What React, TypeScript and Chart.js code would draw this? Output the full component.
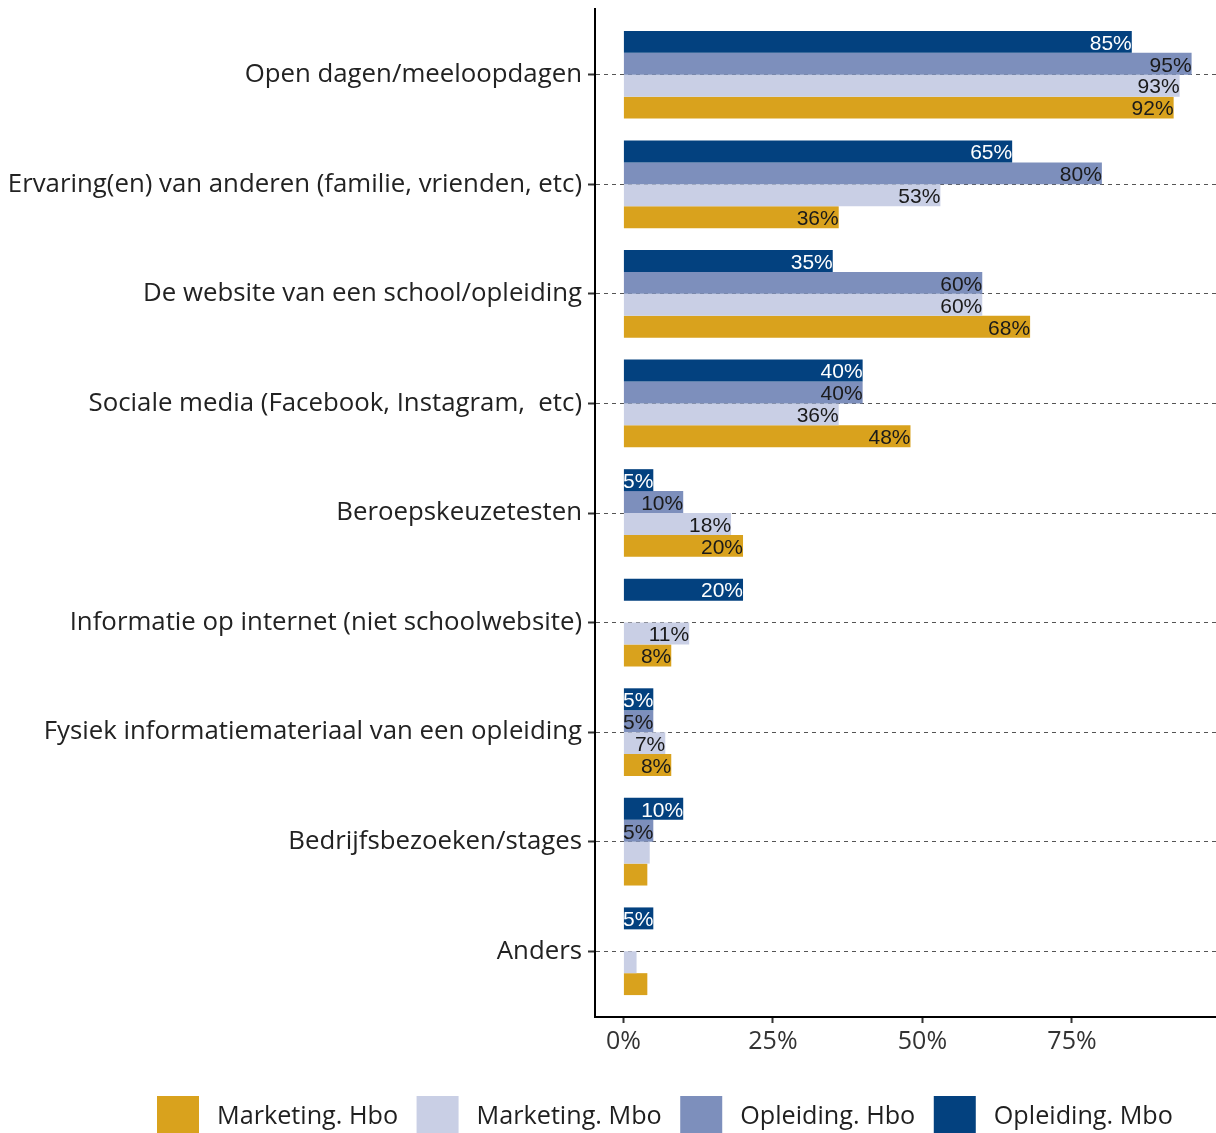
import React, { useEffect, useRef } from "react";
import { Chart, registerables } from "chart.js";

Chart.register(...registerables);

const categories = [
  "Open dagen/meeloopdagen",
  "Ervaring(en) van anderen (familie, vrienden, etc)",
  "De website van een school/opleiding",
  "Sociale media (Facebook, Instagram,  etc)",
  "Beroepskeuzetesten",
  "Informatie op internet (niet schoolwebsite)",
  "Fysiek informatiemateriaal van een opleiding",
  "Bedrijfsbezoeken/stages",
  "Anders",
];

const opleidingMbo = [85, 65, 35, 40, 5, 20, 5, 10, 5];
const opleidingHbo = [95, 80, 60, 40, 10, 0, 5, 5, 0];
const marketingMbo = [93, 53, 60, 36, 18, 11, 7, 4.4, 2.2];
const marketingHbo = [92, 36, 68, 48, 20, 8, 8, 4, 4];

const seriesNames = ["Opleiding. Mbo", "Opleiding. Hbo", "Marketing. Mbo", "Marketing. Hbo"];
const seriesColors = ["#03417f", "#7d8fbc", "#c9cfe5", "#d9a21d"];
const xTickValues = [0, 25, 50, 75];

const FONT = "'Open Sans', 'Noto Sans', sans-serif";

const labelPlugin = {
  id: "barLabels",
  afterDatasetsDraw(chart: any) {
    const ctx = chart.ctx;
    ctx.save();
    ctx.font = "21px 'Liberation Sans', Arial, sans-serif";
    ctx.textAlign = "right";
    ctx.textBaseline = "middle";
    chart.data.datasets.forEach((ds: any, di: number) => {
      const meta = chart.getDatasetMeta(di);
      meta.data.forEach((bar: any, i: number) => {
        const v = ds.data[i].x;
        if (v < 5) return;
        ctx.fillStyle = di === 0 ? "#ffffff" : "#1a1a1a";
        ctx.fillText(Math.round(v) + "%", bar.x, bar.y + 2);
      });
    });
    ctx.restore();
  },
};

const legendPlugin = {
  id: "customLegend",
  afterDraw(chart: any) {
    const ctx = chart.ctx;
    ctx.save();
    ctx.font = "25.2px " + FONT;
    ctx.textBaseline = "middle";
    ctx.textAlign = "left";
    const items = chart.data.datasets.slice().reverse();
    let x = 157;
    const boxTop = 1096;
    const box = 42;
    items.forEach((ds: any) => {
      ctx.fillStyle = ds.backgroundColor;
      ctx.fillRect(x, boxTop, box, box);
      const tx = x + box + 18;
      ctx.fillStyle = "#1f1f1f";
      ctx.fillText(ds.label, tx, 1117);
      x = tx + ctx.measureText(ds.label).width + 18.5;
    });
    ctx.restore();
  },
};

export default function App() {
  const ref = useRef<HTMLCanvasElement>(null);

  useEffect(() => {
    const seriesValues = [opleidingMbo, opleidingHbo, marketingMbo, marketingHbo];
    const chart = new Chart(ref.current as HTMLCanvasElement, {
      type: "bar",
      data: {
        datasets: seriesValues.map((vals, si) => ({
          label: seriesNames[si],
          data: vals.map((v, i) => ({ x: v, y: i })),
          backgroundColor: seriesColors[si],
          borderWidth: 0,
          categoryPercentage: 0.8,
          barPercentage: 1.0,
        })),
      },
      options: {
        indexAxis: "y",
        animation: false,
        responsive: true,
        maintainAspectRatio: false,
        layout: { padding: { top: 9, right: 1, left: 0, bottom: 83 } },
        plugins: {
          legend: { display: false },
          tooltip: { enabled: false },
        },
        scales: {
          x: {
            type: "linear",
            min: -4.75,
            max: 99.75,
            offset: false,
            afterBuildTicks: (scale: any) => {
              scale.ticks = xTickValues.map((v) => ({ value: v }));
            },
            afterFit: (scale: any) => {
              scale.height = 50;
              scale.paddingLeft = 0;
              scale.paddingRight = 0;
            },
            grid: {
              drawOnChartArea: false,
              drawTicks: true,
              tickLength: 6,
              tickColor: "#333333",
              tickWidth: 2,
              offset: false,
            },
            border: { display: true, color: "#000000", width: 2 },
            ticks: {
              callback: (v: any) => v + "%",
              color: "#333333",
              padding: 4,
              font: { family: FONT, size: 25 },
              maxRotation: 0,
            },
          },
          y: {
            type: "linear",
            reverse: true,
            offset: false,
            min: -0.6,
            max: categories.length - 1 + 0.6,
            afterBuildTicks: (scale: any) => {
              scale.ticks = categories.map((_, i) => ({ value: i }));
            },
            afterFit: (scale: any) => {
              scale.width = 595;
              scale.paddingTop = 0;
              scale.paddingBottom = 0;
            },
            grid: {
              offset: false,
              drawOnChartArea: true,
              color: "#555555",
              lineWidth: 1,
              tickLength: 7,
              tickColor: "#333333",
              tickWidth: 2,
              tickBorderDash: [],
            },
            border: { display: true, color: "#000000", width: 2, dash: [4, 4] },
            ticks: {
              callback: (v: any) => categories[v] ?? "",
              color: "#222222",
              padding: 6,
              font: { family: FONT, size: 25.8 },
              autoSkip: false,
            },
          },
        },
      },
      plugins: [labelPlugin, legendPlugin],
    } as any);
    return () => chart.destroy();
  }, []);

  return (
    <div style={{ position: "fixed", left: 0, top: 0, width: 1221, height: 1150 }}>
      <canvas ref={ref} />
    </div>
  );
}
